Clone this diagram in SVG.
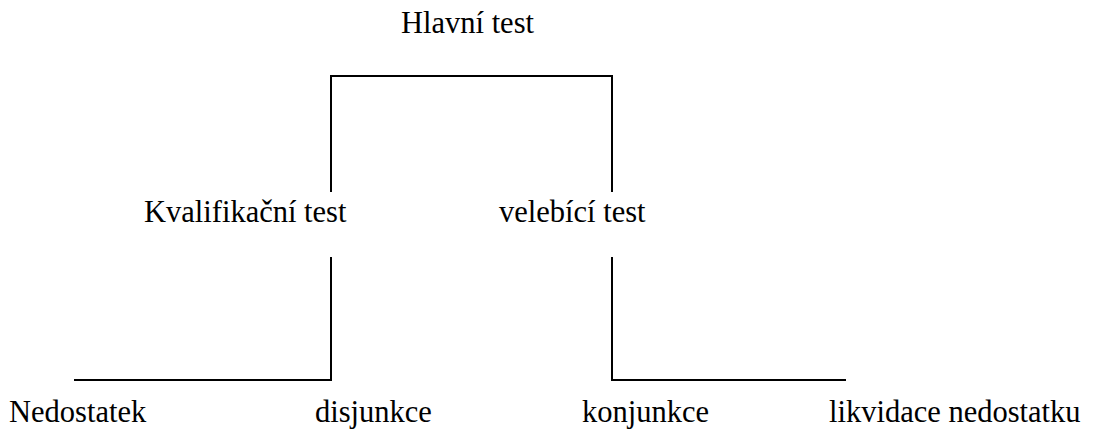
<svg xmlns="http://www.w3.org/2000/svg" width="1096" height="434" viewBox="0 0 1096 434">
<style>
text{font-family:'Liberation Serif','Times New Roman',Times,'DejaVu Serif',serif;font-size:30.5px;fill:#000}
.c{fill:none;stroke:#000;stroke-width:2}
</style>
<rect width="1096" height="434" fill="#fff"/>
<g id="connectors">
<path class="c" d="M331,192 V76 H612 V192"/>
<path class="c" d="M331,257 V380 H74"/>
<path class="c" d="M612,257 V380 H846"/>
</g>
<g id="hlavni"><text x="401" y="33" font-family="Liberation Serif, serif">Hlavní test</text></g>
<g id="kvalifikacni"><text x="144" y="222">Kvalifikační test</text></g>
<g id="velebici"><text x="499" y="222">velebící test</text></g>
<g id="nedostatek"><text x="9" y="422">Nedostatek</text></g>
<g id="disjunkce"><text x="315" y="422">disjunkce</text></g>
<g id="konjunkce"><text x="582" y="422">konjunkce</text></g>
<g id="likvidace"><text x="829" y="422">likvidace nedostatku</text></g>
</svg>
